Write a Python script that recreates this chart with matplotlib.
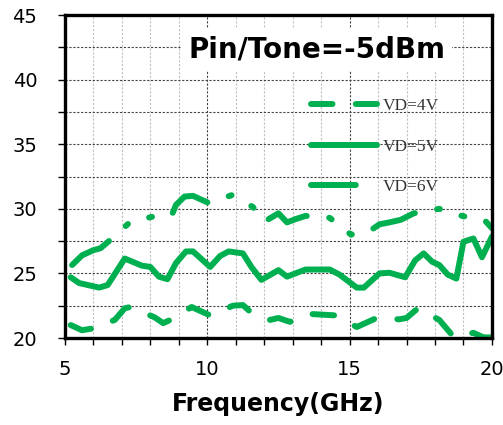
import numpy as np
import matplotlib
matplotlib.use("Agg")
import matplotlib.pyplot as plt
from matplotlib.ticker import MultipleLocator

# data (GHz, dB)
f4 = [5.2, 5.6, 6.0, 6.75, 7.1, 7.3, 8.15, 8.45, 8.7, 9.45, 10.1, 10.9, 11.25, 11.55, 12.2, 12.5,
      12.9, 13.7, 14.5, 15.25, 15.9, 16.75, 17.0, 17.4, 18.15, 18.65, 19.35, 19.7, 20.0]
v4 = [21.0, 20.6, 20.75, 21.4, 22.3, 22.4, 21.6, 21.15, 21.4, 22.4, 21.75, 22.5, 22.55, 21.95, 21.4, 21.55,
      21.25, 21.85, 21.75, 20.85, 21.5, 21.45, 21.55, 22.3, 21.4, 20.1, 20.4, 20.05, 20.05]

f5 = [5.2, 5.5, 6.2, 6.5, 7.1, 7.7, 8.0, 8.3, 8.6, 8.9, 9.25, 9.5, 10.1, 10.45, 10.75, 11.25, 11.55,
      11.9, 12.5, 12.8, 13.45, 14.3, 14.65, 15.25, 15.5, 16.05, 16.4, 16.95, 17.3, 17.6, 17.9, 18.15,
      18.45, 18.75, 19.0, 19.35, 19.65, 20.0]
v5 = [24.7, 24.25, 23.9, 24.1, 26.15, 25.6, 25.5, 24.75, 24.55, 25.8, 26.7, 26.7, 25.5, 26.35, 26.7, 26.55, 25.5,
      24.5, 25.25, 24.75, 25.3, 25.3, 24.9, 23.9, 23.9, 25.0, 25.05, 24.7, 26.0, 26.55, 25.9, 25.65,
      24.9, 24.6, 27.45, 27.7, 26.25, 27.85]

f6 = [5.25, 5.6, 6.0, 6.25, 6.65, 7.3, 8.1, 8.75, 8.9, 9.2, 9.5, 10.05, 10.85, 11.6, 12.0, 12.5, 12.8,
      13.1, 13.45, 14.3, 15.05, 15.75, 16.05, 16.4, 16.8, 17.25, 18.15, 18.95, 19.75, 20.0]
v6 = [25.65, 26.4, 26.8, 26.95, 27.7, 29.0, 29.4, 29.5, 30.3, 30.95, 31.0, 30.45, 31.05, 30.15, 29.0, 29.65, 28.95,
      29.2, 29.45, 29.3, 28.0, 28.35, 28.8, 28.95, 29.15, 29.65, 30.0, 29.45, 29.1, 28.5]

labels = ['VD=4V', 'VD=5V', 'VD=6V']
green = '#00B050'
lw = 4.3

fig = plt.figure(figsize=(5.03, 4.25), dpi=100)
ax = fig.add_axes([0.1292, 0.2047, 0.8488, 0.76])

ax.plot(f4, v4, color=green, lw=lw, ls=(0, (3.6, 3.9)), dash_capstyle='round',
        solid_capstyle='round', solid_joinstyle='round', label=labels[0])
ax.plot(f5, v5, color=green, lw=lw, ls='-', solid_capstyle='round',
        solid_joinstyle='round', label=labels[1])
ax.plot(f6, v6, color=green, lw=lw, ls=(0, (7.5, 3.77, 0.5, 3.77, 0.5, 3.77)),
        dash_capstyle='round', solid_joinstyle='round', label=labels[2])

ax.set_xlim(5, 20)
ax.set_ylim(20, 45)
ax.xaxis.set_major_locator(MultipleLocator(5))
ax.xaxis.set_minor_locator(MultipleLocator(1))
ax.yaxis.set_major_locator(MultipleLocator(5))
ax.yaxis.set_minor_locator(MultipleLocator(2.5))

ax.grid(which='major', axis='x', color='#444444', ls=(0, (2, 1.5)), lw=0.8)
ax.grid(which='minor', axis='x', color='#c0c0c0', ls=(0, (2, 1.5)), lw=0.8)
ax.grid(which='both', axis='y', color='#444444', ls=(0, (2, 1.5)), lw=0.8)
ax.set_axisbelow(True)

for s in ax.spines.values():
    s.set_linewidth(2.4)
ax.tick_params(which='both', direction='out', length=5, width=1, labelsize=14)
ax.tick_params(axis='y', pad=15)
ax.tick_params(axis='x', pad=11)

ax.set_xlabel('Frequency(GHz)', fontsize=17, fontweight='bold', labelpad=9)

ax.text(0.59, 0.892, 'Pin/Tone=-5dBm', transform=ax.transAxes, ha='center', va='center',
        fontsize=20, fontweight='bold',
        bbox=dict(facecolor='white', edgecolor='none', pad=5))

leg = ax.legend(loc='upper left', bbox_to_anchor=(0.555, 0.77), frameon=False,
                prop={'family': 'Liberation Serif', 'size': 12.5},
                handlelength=3.8, handletextpad=0.35, labelspacing=1.4, borderpad=0)
for t in leg.get_texts():
    t.set_color('#333333')

fig.savefig('out.png', dpi=100)
